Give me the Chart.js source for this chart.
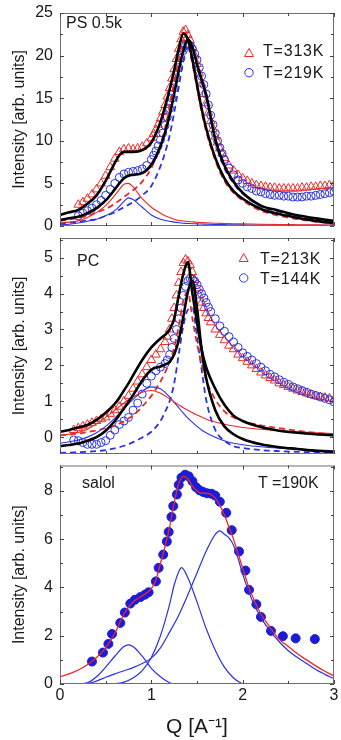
<!DOCTYPE html>
<html>
<head>
<meta charset="utf-8">
<script src="https://cdn.jsdelivr.net/npm/chart.js@4/dist/chart.umd.min.js"></script>
<style>
  html, body { margin: 0; padding: 0; background: #fff; }
  #wrap { position: relative; width: 341px; height: 740px; overflow: hidden;
          font-family: 'Liberation Sans', Arial, Helvetica, sans-serif; color: #1a1a1a; }
  canvas { position: absolute; left: 0; }
  .lbl { position: absolute; font-size: 16px; line-height: 16px; white-space: nowrap; }
  .leg { letter-spacing: 0.8px; }
  #marks { position: absolute; left: 0; top: 0; pointer-events: none; }
</style>
</head>
<body>
<div id="wrap">
  <canvas id="ps" width="341" height="232" style="top:0px"></canvas>
  <canvas id="pc" width="341" height="228" style="top:232px"></canvas>
  <canvas id="salol" width="341" height="280" style="top:460px"></canvas>

  <div class="lbl" style="left:66px;top:15px">PS 0.5k</div>
  <div class="lbl leg" style="left:263px;top:43px">T=313K</div>
  <div class="lbl leg" style="left:263px;top:65px">T=219K</div>

  <div class="lbl" style="left:77px;top:253px">PC</div>
  <div class="lbl leg" style="left:260px;top:251px">T=213K</div>
  <div class="lbl leg" style="left:260px;top:271px">T=144K</div>

  <div class="lbl" style="left:82px;top:475px">salol</div>
  <div class="lbl" style="left:258px;top:475px">T =190K</div>

  <svg id="marks" width="341" height="740">
    <polygon points="244.5,56.5 253.5,56.5 249,48.5" fill="none" stroke="#ec2828" stroke-width="1"/>
    <circle cx="249" cy="72.7" r="4.2" fill="none" stroke="#2a32e6" stroke-width="1"/>
    <polygon points="239.2,261.5 248.2,261.5 243.7,253.5" fill="none" stroke="#ec2828" stroke-width="1"/>
    <circle cx="243.7" cy="278" r="4.2" fill="none" stroke="#2a32e6" stroke-width="1"/>
  </svg>
</div>

<script>
// ---- Q grid used by the fitted curves (A^-1) ----
const FIT_Q = [0, 0.1, 0.2, 0.3, 0.4, 0.5, 0.6, 0.65, 0.7, 0.75, 0.8, 0.9, 1.0, 1.1, 1.15, 1.2, 1.25,
  1.3, 1.35, 1.4, 1.45, 1.5, 1.55, 1.6, 1.7, 1.8, 1.9, 2.0, 2.2, 2.4, 2.6, 2.8, 3.0];

// ---- PS 0.5k : measured points ----
const PS_Q = [0.2, 0.25, 0.3, 0.35, 0.4, 0.45, 0.5, 0.55, 0.6, 0.65, 0.7, 0.75, 0.8, 0.85, 0.9, 0.95, 1.0,
  1.025, 1.05, 1.075, 1.1, 1.125, 1.15, 1.175, 1.2, 1.225, 1.25, 1.275, 1.3, 1.325, 1.35, 1.375, 1.4,
  1.425, 1.45, 1.475, 1.5, 1.525, 1.55, 1.575, 1.6, 1.625, 1.65, 1.675, 1.7, 1.725, 1.75, 1.775, 1.8,
  1.85, 1.9, 1.95, 2.0, 2.05, 2.1, 2.15, 2.2, 2.25, 2.3, 2.35, 2.4, 2.45, 2.5, 2.55, 2.6, 2.65, 2.7,
  2.75, 2.8, 2.85, 2.9, 2.95, 3.0];
const PS_313K = [2.5, 2.8, 3.2, 3.7, 4.3, 5.0, 5.9, 6.9, 7.9, 8.7, 9.0, 9.1, 9.0, 9.1, 9.3, 9.7, 10.3,
  10.8, 11.3, 11.9, 12.6, 13.4, 14.2, 15.2, 16.2, 17.3, 18.4, 19.6, 20.8, 21.9, 22.8, 23.0, 22.4,
  21.8, 21.0, 20.0, 19.0, 17.9, 16.7, 15.5, 14.4, 13.3, 12.3, 11.4, 10.5, 9.8, 9.1, 8.5, 8.0,
  7.1, 6.5, 6.0, 5.6, 5.3, 5.0, 4.8, 4.7, 4.6, 4.5, 4.5, 4.4, 4.4, 4.4, 4.4, 4.4, 4.5, 4.5,
  4.6, 4.6, 4.7, 4.7, 4.8, 4.8];
const PS_219K = [1.2, 1.5, 1.8, 2.1, 2.5, 3.0, 3.6, 4.3, 5.0, 5.7, 6.1, 6.3, 6.4, 6.5, 6.7, 7.1, 7.8,
  8.3, 8.8, 9.4, 10.1, 10.9, 11.8, 12.8, 13.8, 15.0, 16.2, 17.4, 18.6, 19.7, 20.6, 21.2, 21.4,
  21.2, 20.8, 20.2, 19.5, 18.6, 17.6, 16.6, 15.5, 14.2, 13.0, 11.9, 10.9, 10.0, 9.2, 8.5, 7.8,
  6.8, 6.0, 5.4, 5.0, 4.6, 4.4, 4.1, 4.0, 3.8, 3.7, 3.6, 3.6, 3.5, 3.5, 3.4, 3.4, 3.4, 3.5,
  3.5, 3.6, 3.7, 3.8, 3.9, 4.0];

// ---- PS 0.5k : fits and components (on FIT_Q) ----
const PS_FIT_313K = [1.3, 1.6, 1.9, 2.6, 3.6, 5.3, 7.4, 8.3, 8.7, 8.7, 8.7, 8.9, 9.8, 12.2, 14.0, 16.0, 18.3,
  20.8, 22.6, 21.9, 19.5, 16.6, 13.8, 11.5, 8.0, 5.6, 4.1, 3.2, 2.0, 1.4, 0.95, 0.6, 0.35];
const PS_FIT_219K = [0.7, 0.9, 1.1, 1.5, 2.1, 3.0, 4.3, 5.0, 5.6, 5.9, 6.0, 6.2, 7.2, 9.4, 11.0, 13.0, 15.5,
  18.2, 20.6, 21.9, 21.0, 19.0, 17.2, 15.4, 10.2, 7.1, 5.2, 3.9, 2.4, 1.8, 1.25, 0.9, 0.6];
const PS_LOW_313K = [0.35, 0.45, 0.6, 1.0, 1.6, 2.4, 3.6, 4.3, 4.9, 5.0, 4.6, 3.2, 2.2, 1.5, 1.2, 1.0, 0.8,
  0.65, 0.58, 0.52, 0.48, 0.44, 0.4, 0.37, 0.33, 0.3, 0.27, 0.25, 0.2, 0.17, 0.15, 0.13, 0.12];
const PS_LOW_219K = [0.15, 0.2, 0.35, 0.55, 0.8, 1.2, 1.8, 2.3, 2.9, 3.3, 3.1, 2.2, 1.3, 0.8, 0.65, 0.55, 0.45,
  0.38, 0.33, 0.3, 0.27, 0.25, 0.23, 0.21, 0.18, 0.16, 0.14, 0.13, 0.11, 0.1, 0.09, 0.08, 0.08];
const PS_MAIN_313K = [0.6, 0.75, 0.95, 1.2, 1.6, 2.0, 2.6, 3.0, 3.4, 3.8, 4.2, 5.2, 6.8, 9.5, 11.5, 14.0, 16.8,
  19.6, 21.8, 21.3, 19.0, 16.2, 13.4, 11.1, 7.7, 5.3, 3.9, 3.0, 1.8, 1.2, 0.8, 0.5, 0.25];
const PS_MAIN_219K = [0.3, 0.4, 0.5, 0.65, 0.8, 1.2, 1.6, 1.9, 2.2, 2.5, 2.8, 3.6, 4.7, 7.0, 8.6, 10.6, 13.3,
  16.3, 19.4, 21.4, 20.7, 18.8, 17.0, 15.0, 10.0, 6.8, 5.0, 3.8, 2.3, 1.7, 1.15, 0.8, 0.5];

// ---- PC : measured points ----
const PC_Q = [0.15, 0.2, 0.25, 0.3, 0.35, 0.4, 0.45, 0.5, 0.55, 0.6, 0.65, 0.7, 0.75, 0.8, 0.85, 0.9, 0.95,
  1.0, 1.05, 1.1, 1.15,
  1.175, 1.2, 1.225, 1.25, 1.275, 1.3, 1.325, 1.35, 1.375, 1.4, 1.425, 1.45, 1.475, 1.5, 1.525, 1.55,
  1.575, 1.6, 1.625, 1.65,
  1.7, 1.75, 1.8, 1.85, 1.9, 1.95, 2.0, 2.05, 2.1, 2.15, 2.2, 2.25, 2.3, 2.35, 2.4, 2.45, 2.5, 2.55,
  2.6, 2.65, 2.7, 2.75, 2.8, 2.85, 2.9, 2.95, 3.0];
const PC_213K = [0.2, 0.25, 0.3, 0.35, 0.4, 0.45, 0.5, 0.55, 0.65, 0.75, 0.85, 1.0, 1.15, 1.35, 1.55, 1.75, 1.95,
  2.15, 2.3, 2.45, 2.65,
  2.8, 3.0, 3.3, 3.6, 3.95, 4.3, 4.6, 4.85, 4.95, 4.9, 4.8, 4.6, 4.38, 4.15, 3.95, 3.75,
  3.6, 3.45, 3.32, 3.2,
  3.0, 2.85, 2.7, 2.55, 2.45, 2.3, 2.2, 2.1, 2.0, 1.9, 1.8, 1.72, 1.65, 1.58, 1.5, 1.45, 1.4, 1.35,
  1.3, 1.26, 1.22, 1.18, 1.15, 1.12, 1.1, 1.08, 1.05];
const PC_144K = [-0.08, -0.1, -0.15, -0.2, -0.2, -0.2, -0.15, -0.1, 0.05, 0.2, 0.35, 0.45, 0.55, 0.75, 0.95, 1.2, 1.5,
  1.7, 1.85, 1.95, 2.05,
  2.15, 2.3, 2.5, 2.75, 3.0, 3.3, 3.6, 3.95, 4.2, 4.35, 4.42, 4.4, 4.35, 4.25, 4.12, 4.0,
  3.88, 3.75, 3.62, 3.5,
  3.3, 3.1, 2.95, 2.8, 2.65, 2.5, 2.35, 2.25, 2.15, 2.05, 1.95, 1.85, 1.75, 1.68, 1.6, 1.53, 1.47, 1.4,
  1.35, 1.3, 1.25, 1.2, 1.16, 1.12, 1.08, 1.04, 0.98];

// ---- PC : fits and components (on FIT_Q) ----
const PC_FIT_213K = [0.15, 0.2, 0.27, 0.34, 0.48, 0.68, 0.93, 1.1, 1.3, 1.5, 1.72, 2.15, 2.5, 2.75, 2.85, 3.0, 3.3,
  3.95, 4.55, 4.88, 4.0, 3.2, 2.45, 1.95, 1.35, 0.9, 0.6, 0.45, 0.28, 0.18, 0.12, 0.08, 0.05];
const PC_FIT_144K = [-0.25, -0.22, -0.18, -0.1, 0.0, 0.18, 0.45, 0.62, 0.8, 0.98, 1.17, 1.58, 1.88, 1.97, 2.02, 2.1, 2.3,
  2.7, 3.35, 4.05, 4.35, 3.6, 2.45, 1.65, 0.75, 0.3, 0.08, -0.05, -0.2, -0.28, -0.33, -0.38, -0.41];
const PC_LOW_213K = [0.05, 0.08, 0.13, 0.22, 0.37, 0.55, 0.75, 0.85, 0.95, 1.04, 1.12, 1.25, 1.3, 1.22, 1.15, 1.07, 0.98,
  0.9, 0.82, 0.75, 0.68, 0.62, 0.56, 0.5, 0.42, 0.36, 0.31, 0.27, 0.22, 0.18, 0.15, 0.12, 0.1];
const PC_MAIN_213K = [0.05, 0.07, 0.1, 0.14, 0.19, 0.25, 0.33, 0.38, 0.44, 0.52, 0.6, 0.85, 1.15, 1.55, 1.8, 2.1, 2.5,
  3.1, 3.8, 4.05, 3.3, 2.6, 2.05, 1.6, 1.05, 0.72, 0.55, 0.45, 0.33, 0.25, 0.18, 0.12, 0.08];
const PC_LOW_144K = [-0.17, -0.13, -0.08, 0.0, 0.12, 0.3, 0.53, 0.66, 0.8, 0.93, 1.05, 1.28, 1.4, 1.35, 1.25, 1.12, 0.97,
  0.82, 0.67, 0.53, 0.41, 0.3, 0.2, 0.12, 0.0, -0.1, -0.17, -0.21, -0.27, -0.31, -0.34, -0.36, -0.38];
const PC_MAIN_144K = [-0.44, -0.43, -0.42, -0.41, -0.39, -0.36, -0.31, -0.28, -0.24, -0.2, -0.14, -0.01, 0.15, 0.45, 0.7, 1.0, 1.5,
  2.3, 3.1, 3.55, 3.6, 2.8, 1.9, 1.05, 0.2, -0.1, -0.25, -0.3, -0.36, -0.39, -0.41, -0.43, -0.44];

// ---- salol, T = 190K ----
const SALOL_Q = [0.35, 0.47, 0.53, 0.57, 0.66, 0.71, 0.77, 0.82, 0.88, 0.93, 0.97, 1.05, 1.08, 1.13, 1.17,
  1.19, 1.22, 1.24, 1.28, 1.30, 1.33, 1.37, 1.41, 1.45, 1.49, 1.53, 1.57, 1.61, 1.66, 1.70, 1.75,
  1.82, 1.88, 1.96, 2.03, 2.07, 2.15, 2.20, 2.31, 2.44, 2.58, 2.79];
const SALOL_I = [0.93, 1.30, 1.66, 2.07, 2.53, 2.96, 3.33, 3.49, 3.60, 3.70, 3.80, 4.25, 4.81, 5.36, 5.90,
  6.30, 6.92, 7.37, 7.85, 8.25, 8.55, 8.67, 8.60, 8.40, 8.15, 8.02, 7.95, 7.90, 7.88, 7.80, 7.55,
  7.09, 6.37, 5.49, 4.70, 3.90, 3.30, 2.78, 2.20, 1.98, 1.89, 1.86];
const SALOL_FIT_Q = [0, 0.1, 0.2, 0.3, 0.4, 0.5, 0.6, 0.7, 0.8, 0.9, 1.0, 1.05, 1.1, 1.15, 1.2, 1.25, 1.3, 1.35,
  1.4, 1.45, 1.5, 1.55, 1.6, 1.65, 1.7, 1.75, 1.8, 1.85, 1.9, 1.95, 2.0, 2.05, 2.1, 2.2, 2.3, 2.4,
  2.5, 2.6, 2.7, 2.8, 2.9, 3.0];
const SALOL_FIT = [0.3, 0.42, 0.58, 0.8, 1.1, 1.5, 2.1, 2.9, 3.4, 3.65, 3.95, 4.3, 5.0, 5.7, 6.5, 7.5, 8.3, 8.6,
  8.5, 8.2, 8.0, 7.9, 7.9, 7.85, 7.7, 7.4, 7.0, 6.5, 6.0, 5.4, 4.8, 4.2, 3.7, 2.9, 2.35, 1.85,
  1.55, 1.25, 1.0, 0.75, 0.53, 0.33];
const PEAK_A_Q = [0.2, 0.3, 0.4, 0.5, 0.6, 0.7, 0.75, 0.8, 0.9, 1.0, 1.1, 1.2, 1.25];
const PEAK_A = [0, 0.05, 0.3, 0.7, 1.15, 1.55, 1.62, 1.55, 1.15, 0.65, 0.3, 0.05, 0];
const PEAK_B_Q = [0.6, 0.7, 0.8, 0.9, 1.0, 1.1, 1.2, 1.25, 1.3, 1.33, 1.4, 1.5, 1.6, 1.7, 1.8, 1.9, 2.0];
const PEAK_B = [0, 0.08, 0.25, 0.55, 1.1, 2.0, 3.3, 4.1, 4.65, 4.82, 4.4, 3.4, 2.3, 1.4, 0.7, 0.25, 0];
const PEAK_C_Q = [0.25, 0.3, 0.4, 0.5, 0.6, 0.7, 0.8, 0.9, 1.0, 1.1, 1.2, 1.3, 1.4, 1.5, 1.6, 1.7, 1.75,
  1.8, 1.85, 1.9, 1.95, 2.0, 2.05, 2.1, 2.2, 2.3, 2.4, 2.5, 2.6, 2.7, 2.8, 2.9, 3.0];
const PEAK_C = [0, 0.02, 0.12, 0.28, 0.42, 0.55, 0.68, 0.85, 1.07, 1.5, 2.15, 2.85, 3.7, 4.6, 5.5, 6.2, 6.34,
  6.2, 6.05, 5.75, 5.2, 4.55, 4.0, 3.5, 2.75, 2.2, 1.75, 1.38, 1.1, 0.85, 0.6, 0.4, 0.22];

const RED = "#ec2828";
const BLUE = "#2a32e6";
const DOT_BLUE = "#1c1cd8";
const TEXT = "#1a1a1a";

Chart.defaults.font.family = "'Liberation Sans', Arial, Helvetica, sans-serif";
Chart.defaults.font.size = 16;
Chart.defaults.color = TEXT;

function pts(xs, ys) {
  return xs.map((x, i) => ({ x: x, y: ys[i] }));
}

function markers(xs, ys, style, color, radius, filled, order) {
  return {
    data: pts(xs, ys),
    showLine: false,
    pointStyle: style,
    pointRadius: radius,
    pointBorderColor: color,
    pointBackgroundColor: filled ? color : "rgba(0,0,0,0)",
    pointBorderWidth: 1,
    order: order,
    clip: 0,
  };
}

function curve(xs, ys, color, width, dash, order) {
  return {
    data: pts(xs, ys),
    showLine: true,
    pointRadius: 0,
    borderColor: color,
    borderWidth: width,
    borderDash: dash || [],
    cubicInterpolationMode: "monotone",
    fill: false,
    order: order,
  };
}

// frame box plus inward ticks on all four sides (like the original plotting program)
const frameTicks = {
  id: "frameTicks",
  afterDatasetsDraw(chart, args, opts) {
    const { ctx, chartArea: a } = chart;
    const x = chart.scales.x;
    const y = chart.scales.y;
    ctx.save();
    ctx.strokeStyle = "#6e6e6e";
    ctx.lineWidth = 1;
    ctx.strokeRect(a.left + 0.5, a.top + 0.5, a.right - a.left - 1, a.bottom - a.top - 1);

    ctx.strokeStyle = "#444";
    ctx.beginPath();
    let k0 = Math.ceil(x.min / opts.xMinor - 1e-6);
    let k1 = Math.floor(x.max / opts.xMinor + 1e-6);
    for (let k = k0; k <= k1; k++) {
      const v = k * opts.xMinor;
      const major = Math.abs(v / opts.xMajor - Math.round(v / opts.xMajor)) < 1e-6;
      const len = major ? 4 : 3;
      const px = Math.round(x.getPixelForValue(v)) + 0.5;
      ctx.moveTo(px, a.bottom);
      ctx.lineTo(px, a.bottom - len);
      ctx.moveTo(px, a.top);
      ctx.lineTo(px, a.top + len);
    }
    k0 = Math.ceil(y.min / opts.yMinor - 1e-6);
    k1 = Math.floor(y.max / opts.yMinor + 1e-6);
    for (let k = k0; k <= k1; k++) {
      const v = k * opts.yMinor;
      const major = Math.abs(v / opts.yMajor - Math.round(v / opts.yMajor)) < 1e-6;
      const len = major ? 4 : 3;
      const py = Math.round(y.getPixelForValue(v)) + 0.5;
      ctx.moveTo(a.left, py);
      ctx.lineTo(a.left + len, py);
      ctx.moveTo(a.right, py);
      ctx.lineTo(a.right - len, py);
    }
    ctx.stroke();
    ctx.restore();
  },
};

function makePanel(id, datasets, cfg) {
  return new Chart(document.getElementById(id), {
    type: "scatter",
    data: { datasets: datasets },
    options: {
      responsive: false,
      animation: false,
      events: [],
      layout: { padding: { top: cfg.padTop, right: 7, left: 0, bottom: 0 } },
      plugins: {
        legend: { display: false },
        tooltip: { enabled: false },
        frameTicks: { xMajor: 1, xMinor: 0.5, yMajor: cfg.yStep, yMinor: cfg.yStep / 2 },
      },
      scales: {
        x: {
          type: "linear",
          min: 0,
          max: 3,
          grid: { display: false, drawTicks: false },
          border: { display: false },
          ticks: { display: cfg.showX, stepSize: 1, padding: 2, includeBounds: false, maxRotation: 0 },
          title: {
            display: cfg.showX,
            text: "Q [A\u207B\u00B9]",
            color: TEXT,
            font: { size: 21 },
            padding: { top: 9, bottom: 0 },
          },
          afterFit(s) {
            s.height = cfg.xHeight;
            s.paddingLeft = 0;
            s.paddingRight = 0;
          },
        },
        y: {
          type: "linear",
          min: cfg.yMin,
          max: cfg.yMax,
          grid: { display: false, drawTicks: false },
          border: { display: false },
          ticks: { stepSize: cfg.yStep, padding: 7, includeBounds: false },
          title: {
            display: true,
            text: "Intensity [arb. units]",
            color: TEXT,
            font: { size: 16 },
            padding: { top: 10, bottom: 0 },
          },
          afterFit(s) {
            s.width = 60;
            s.paddingTop = 0;
            s.paddingBottom = 0;
          },
        },
      },
    },
    plugins: [frameTicks],
  });
}

makePanel("ps", [
  markers(PS_Q, PS_313K, "triangle", RED, 5, false, 6),
  markers(PS_Q, PS_219K, "circle", BLUE, 4, false, 5),
  curve(FIT_Q, PS_MAIN_313K, RED, 1.8, [6, 4], 4),
  curve(FIT_Q, PS_MAIN_219K, BLUE, 1.8, [6, 4], 4),
  curve(FIT_Q, PS_LOW_313K, RED, 1.1, null, 3),
  curve(FIT_Q, PS_LOW_219K, BLUE, 1.1, null, 3),
  curve(FIT_Q, PS_FIT_313K, "#000", 2.6, null, 1),
  curve(FIT_Q, PS_FIT_219K, "#000", 2.6, null, 1),
], { padTop: 13, xHeight: 2, yMin: 0, yMax: 25, yStep: 5, showX: false });

makePanel("pc", [
  markers(PC_Q, PC_213K, "triangle", RED, 5, false, 6),
  markers(PC_Q, PC_144K, "circle", BLUE, 4, false, 5),
  curve(FIT_Q, PC_MAIN_213K, RED, 1.8, [6, 4], 4),
  curve(FIT_Q, PC_MAIN_144K, BLUE, 1.8, [6, 4], 4),
  curve(FIT_Q, PC_LOW_213K, RED, 1.1, null, 3),
  curve(FIT_Q, PC_LOW_144K, BLUE, 1.1, null, 3),
  curve(FIT_Q, PC_FIT_213K, "#000", 2.6, null, 1),
  curve(FIT_Q, PC_FIT_144K, "#000", 2.6, null, 1),
], { padTop: 5, xHeight: 2, yMin: -0.47, yMax: 5.55, yStep: 1, showX: false });

makePanel("salol", [
  markers(SALOL_Q, SALOL_I, "circle", DOT_BLUE, 4.5, true, 4),
  curve(PEAK_A_Q, PEAK_A, BLUE, 1.2, null, 2),
  curve(PEAK_B_Q, PEAK_B, BLUE, 1.2, null, 2),
  curve(PEAK_C_Q, PEAK_C, BLUE, 1.2, null, 2),
  curve(SALOL_FIT_Q, SALOL_FIT, RED, 1.3, null, 1),
], { padTop: 4, xHeight: 56, yMin: 0, yMax: 9.05, yStep: 2, showX: true });
</script>
</body>
</html>
